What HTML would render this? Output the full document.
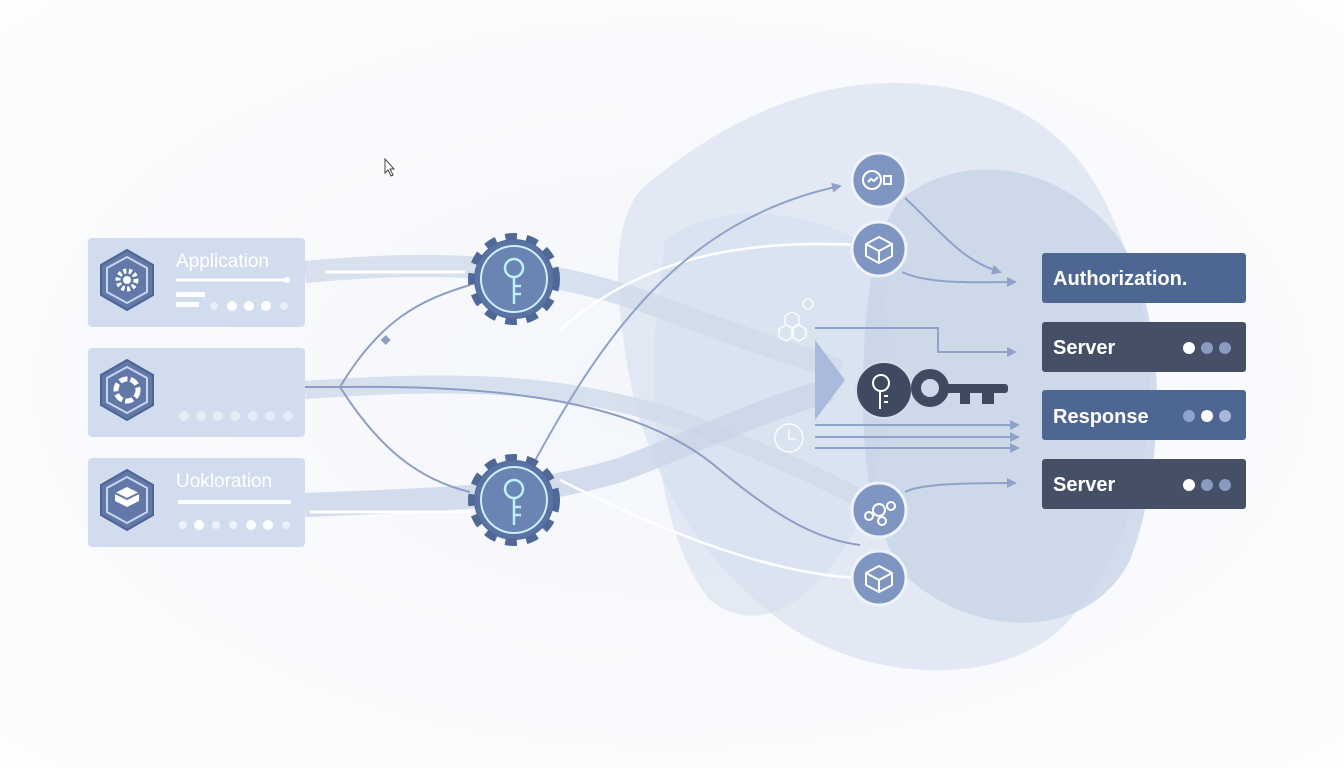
<!DOCTYPE html>
<html><head><meta charset="utf-8"><style>
html,body{margin:0;padding:0;background:#fbfcfe;}
svg{display:block;font-family:"Liberation Sans",sans-serif;}
</style></head><body>
<svg width="1344" height="768" viewBox="0 0 1344 768">
<defs>
<radialGradient id="bg" cx="50%" cy="50%" r="70%"><stop offset="0" stop-color="#f3f6fb"/><stop offset="1" stop-color="#fdfdfe"/></radialGradient>
<marker id="ar" markerWidth="10" markerHeight="10" refX="8" refY="5" orient="auto" markerUnits="userSpaceOnUse"><path d="M0,0 L10,5 L0,10 Z" fill="#8fa3c8"/></marker>
</defs>
<rect width="1344" height="768" fill="url(#bg)"/>
<!-- blobs -->
<path d="M640,190 C700,140 800,70 930,85 C1060,100 1110,180 1140,300 C1170,430 1130,560 1060,630 C990,690 860,680 780,620 C700,560 650,480 630,380 C615,300 610,230 640,190 Z" fill="#dde5f1" opacity="0.8"/>
<path d="M665,240 C720,200 800,210 860,240 C900,300 900,420 860,520 C820,600 760,640 710,600 C660,540 650,420 655,330 Z" fill="#d6dfee" opacity="0.6"/>
<path d="M900,200 C960,150 1060,160 1120,240 C1170,320 1165,470 1130,560 C1090,640 980,640 910,580 C860,520 860,420 865,330 C870,270 880,225 900,200 Z" fill="#c5d1e6" opacity="0.75"/>
<!-- wide flow bands -->
<path d="M305,272 C420,262 520,260 640,300 C720,330 780,350 840,370" stroke="#cfd9ea" stroke-width="22" fill="none" opacity="0.8"/>
<path d="M305,390 C450,380 560,380 680,420 C760,450 830,480 880,510" stroke="#cfd9ea" stroke-width="18" fill="none" opacity="0.8"/>
<path d="M305,505 C420,500 520,500 620,470 C700,440 760,410 830,390" stroke="#c9d4e8" stroke-width="24" fill="none" opacity="0.8"/>
<path d="M815,340 L845,380 L815,420 Z" fill="#a9badb"/>
<!-- white lines -->
<line x1="325" y1="272" x2="465" y2="272" stroke="#fff" stroke-width="3"/>
<line x1="310" y1="512" x2="470" y2="512" stroke="#fff" stroke-width="3"/>
<path d="M560,330 C650,250 760,240 860,245" stroke="#fff" stroke-width="2.5" fill="none"/>
<path d="M560,480 C680,540 780,575 860,578" stroke="#fff" stroke-width="2.5" fill="none"/>
<!-- thin connectors -->
<path d="M305,387 L340,387 C380,320 420,300 470,285" stroke="#8c9fc3" stroke-width="2" fill="none"/>
<path d="M340,387 C380,450 420,480 470,492" stroke="#8c9fc3" stroke-width="2" fill="none"/>
<rect x="382" y="336" width="7" height="7" fill="#8c9fc3" transform="rotate(45 385 340)"/>
<path d="M340,387 C500,385 640,400 720,470 C780,520 820,540 860,545" stroke="#8c9fc3" stroke-width="2" fill="none"/>
<path d="M530,470 C600,340 680,220 840,186" stroke="#8fa3c8" stroke-width="2" fill="none" marker-end="url(#ar)"/>
<path d="M905,198 C940,230 960,260 1000,272" stroke="#8fa3c8" stroke-width="2" fill="none" marker-end="url(#ar)"/>
<path d="M902,272 C930,285 980,282 1015,282" stroke="#8fa3c8" stroke-width="2" fill="none" marker-end="url(#ar)"/>
<path d="M815,328 L938,328 L938,352 L1015,352" stroke="#8fa3c8" stroke-width="2" fill="none" marker-end="url(#ar)"/>
<line x1="815" y1="425" x2="1018" y2="425" stroke="#8fa3c8" stroke-width="2" marker-end="url(#ar)"/>
<line x1="815" y1="437" x2="1018" y2="437" stroke="#8fa3c8" stroke-width="2" marker-end="url(#ar)"/>
<line x1="815" y1="448" x2="1018" y2="448" stroke="#8fa3c8" stroke-width="2" marker-end="url(#ar)"/>
<path d="M905,492 C920,484 960,483 1015,483" stroke="#8fa3c8" stroke-width="2" fill="none" marker-end="url(#ar)"/>
<!-- hexes small -->
<g stroke="#fff" stroke-width="1.5" fill="none" opacity="0.9">
<circle cx="808" cy="304" r="5"/>
<path d="M792,312 l7,4 v8 l-7,4 l-7,-4 v-8 z"/><path d="M786,325 l7,4 v8 l-7,4 l-7,-4 v-8 z"/><path d="M799,325 l7,4 v8 l-7,4 l-7,-4 v-8 z"/>
<circle cx="789" cy="438" r="14"/><path d="M789,430 v9 h7"/>
</g>
<!-- left cards -->
<g>
<rect x="88" y="238" width="217" height="89" rx="4" fill="#d2dcef"/>
<rect x="88" y="348" width="217" height="89" rx="4" fill="#d2dcef"/>
<rect x="88" y="458" width="217" height="89" rx="4" fill="#d2dcef"/>
<g fill="#6178a8" stroke="#4e6594" stroke-width="2">
<path d="M127,250 l26,15 v30 l-26,15 l-26,-15 v-30 z"/>
<path d="M127,360 l26,15 v30 l-26,15 l-26,-15 v-30 z"/>
<path d="M127,470 l26,15 v30 l-26,15 l-26,-15 v-30 z"/>
</g>
<g fill="none" stroke="#c9d5ee" stroke-width="2">
<path d="M127,257 l20,11 v24 l-20,11 l-20,-11 v-24 z"/>
<path d="M127,367 l20,11 v24 l-20,11 l-20,-11 v-24 z"/>
<path d="M127,477 l20,11 v24 l-20,11 l-20,-11 v-24 z"/>
</g>
<circle cx="127" cy="280" r="9" fill="none" stroke="#fff" stroke-width="5" stroke-dasharray="3 2.5"/>
<circle cx="127" cy="280" r="4" fill="#fff"/>
<circle cx="127" cy="390" r="11" fill="none" stroke="#fff" stroke-width="5" stroke-dasharray="8 3"/>
<path d="M115,493 l12,-6 l12,6 v8 l-12,6 l-12,-6 z" fill="#fff"/><path d="M115,493 l12,6 l12,-6" stroke="#6178a8" stroke-width="2" fill="none"/>
<text x="176" y="267" font-size="19" fill="#fff">Application</text>
<line x1="176" y1="280" x2="286" y2="280" stroke="#fff" stroke-width="3"/><circle cx="287" cy="280" r="3" fill="#fff"/>
<rect x="176" y="292" width="29" height="5" fill="#fff"/><rect x="176" y="302" width="23" height="5" fill="#fff"/>
<g fill="#fff"><circle cx="214" cy="306" r="4" opacity=".5"/><circle cx="232" cy="306" r="5"/><circle cx="249" cy="306" r="5"/><circle cx="266" cy="306" r="5"/><circle cx="284" cy="306" r="4" opacity=".5"/></g>
<g fill="#fff" opacity=".45"><circle cx="184" cy="416" r="5"/><circle cx="201" cy="416" r="5"/><circle cx="218" cy="416" r="5"/><circle cx="235" cy="416" r="5"/><circle cx="253" cy="416" r="5"/><circle cx="270" cy="416" r="5"/><circle cx="288" cy="416" r="5"/></g>
<text x="176" y="487" font-size="19" fill="#fff">Uokloration</text>
<line x1="178" y1="502" x2="291" y2="502" stroke="#fff" stroke-width="4"/>
<g fill="#fff"><circle cx="183" cy="525" r="4" opacity=".6"/><circle cx="199" cy="525" r="5"/><circle cx="216" cy="525" r="4" opacity=".6"/><circle cx="233" cy="525" r="4" opacity=".6"/><circle cx="251" cy="525" r="5"/><circle cx="268" cy="525" r="5"/><circle cx="286" cy="525" r="4" opacity=".5"/></g>
</g>
<!-- gears -->
<g id="g1">
<circle cx="514" cy="279" r="40" fill="#4f6896" stroke="#4f6896" stroke-width="12" stroke-dasharray="11 9"/>
<circle cx="514" cy="279" r="39" fill="#5a73a3"/>
<circle cx="514" cy="279" r="33" fill="#6a84b4" stroke="#cdf0f8" stroke-width="2"/>
<circle cx="514" cy="268" r="9" fill="none" stroke="#bdf2fb" stroke-width="2.5"/>
<path d="M514,277 v27 M514,286 h7 M514,294 h7" stroke="#bdf2fb" stroke-width="2.5" fill="none"/>
</g>
<g>
<circle cx="514" cy="500" r="40" fill="#4f6896" stroke="#4f6896" stroke-width="12" stroke-dasharray="11 9"/>
<circle cx="514" cy="500" r="39" fill="#5a73a3"/>
<circle cx="514" cy="500" r="33" fill="#6a84b4" stroke="#cdf0f8" stroke-width="2"/>
<circle cx="514" cy="489" r="9" fill="none" stroke="#bdf2fb" stroke-width="2.5"/>
<path d="M514,498 v27 M514,507 h7 M514,515 h7" stroke="#bdf2fb" stroke-width="2.5" fill="none"/>
</g>
<!-- right circles -->
<g fill="#7f96c2" stroke="#eef2fa" stroke-width="3">
<circle cx="879" cy="180" r="27"/><circle cx="879" cy="249" r="27"/><circle cx="879" cy="510" r="27"/><circle cx="879" cy="578" r="27"/>
</g>
<g stroke="#fff" stroke-width="2" fill="none">
<circle cx="872" cy="180" r="9"/><path d="M868,182 l3,-3 l3,2 l4,-4"/><rect x="884" y="176" width="7" height="8"/>
<path d="M866,244 l13,-7 l13,7 v12 l-13,7 l-13,-7 z M866,244 l13,7 l13,-7 M879,251 v12"/>
<path d="M866,573 l13,-7 l13,7 v12 l-13,7 l-13,-7 z M866,573 l13,7 l13,-7 M879,580 v12"/>
<circle cx="879" cy="510" r="6"/><circle cx="869" cy="516" r="4"/><circle cx="891" cy="506" r="4"/><circle cx="882" cy="521" r="4"/>
</g>
<!-- key -->
<circle cx="884" cy="390" r="28" fill="#3f4a60" stroke="#d5deee" stroke-width="2"/>
<circle cx="881" cy="383" r="8" fill="none" stroke="#fff" stroke-width="2"/>
<path d="M880,391 v18 M884,396 h4 M884,402 h4" stroke="#fff" stroke-width="2"/>
<circle cx="930" cy="388" r="14" fill="none" stroke="#3f4a60" stroke-width="10"/>
<rect x="940" y="384" width="68" height="9" rx="3" fill="#3f4a60"/>
<rect x="960" y="390" width="10" height="14" fill="#3f4a60"/><rect x="982" y="390" width="12" height="14" fill="#3f4a60"/>
<!-- right boxes -->
<g>
<rect x="1042" y="253" width="204" height="50" rx="3" fill="#4d6792"/>
<rect x="1042" y="322" width="204" height="50" rx="3" fill="#454f66"/>
<rect x="1042" y="390" width="204" height="50" rx="3" fill="#4d6792"/>
<rect x="1042" y="459" width="204" height="50" rx="3" fill="#454f66"/>
<g fill="#fff" font-size="20" font-weight="bold">
<text x="1053" y="285">Authorization.</text>
<text x="1053" y="354">Server</text>
<text x="1053" y="423">Response</text>
<text x="1053" y="491">Server</text>
</g>
<circle cx="1189" cy="348" r="6" fill="#fff"/><circle cx="1207" cy="348" r="6" fill="#8a9ac0"/><circle cx="1225" cy="348" r="6" fill="#8a9ac0"/>
<circle cx="1189" cy="416" r="6" fill="#8fa3cc"/><circle cx="1207" cy="416" r="6" fill="#fff"/><circle cx="1225" cy="416" r="6" fill="#a8b8d8"/>
<circle cx="1189" cy="485" r="6" fill="#fff"/><circle cx="1207" cy="485" r="6" fill="#8a9ac0"/><circle cx="1225" cy="485" r="6" fill="#8a9ac0"/>
</g>
<!-- cursor -->
<path d="M385,159 v14 l3,-3 l3,6 l2,-1 l-3,-6 h4 z" fill="#fff" stroke="#444" stroke-width="1"/>
</svg>
</body></html>
